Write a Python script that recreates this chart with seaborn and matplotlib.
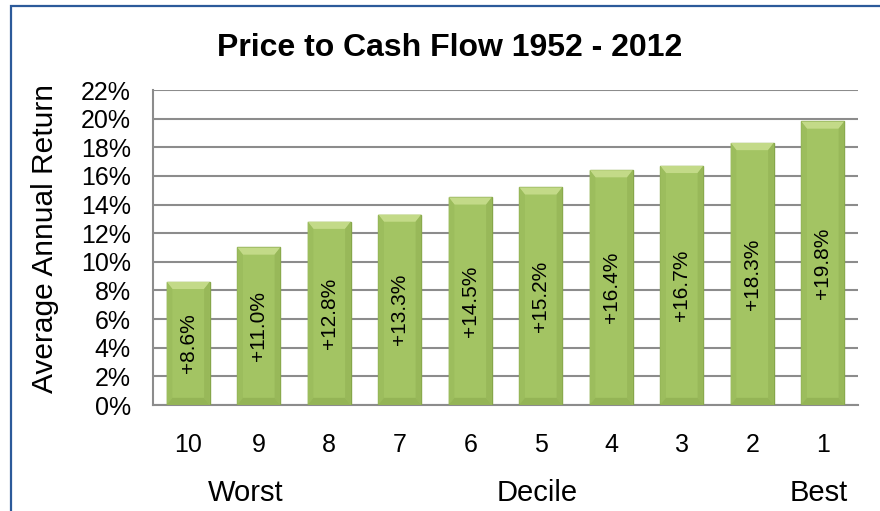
import matplotlib
matplotlib.use("Agg")
import matplotlib.pyplot as plt
import matplotlib.patches as mpatches
import seaborn as sns
import pandas as pd

# values
deciles = ["10", "9", "8", "7", "6", "5", "4", "3", "2", "1"]
returns = [8.6, 11.0, 12.8, 13.3, 14.5, 15.2, 16.4, 16.7, 18.3, 19.8]
yticks = list(range(0, 23, 2))

veri = pd.DataFrame({"Decile": deciles, "Return": returns})

sns.set_style("white")
plt.rcParams["font.family"] = ["Liberation Sans", "DejaVu Sans"]
plt.rcParams["text.color"] = "black"
plt.rcParams["axes.labelcolor"] = "black"
plt.rcParams["xtick.color"] = "black"
plt.rcParams["ytick.color"] = "black"

fig = plt.figure(figsize=(8.8, 5.11), dpi=100)
ax = fig.add_axes([153 / 880, 1 - 405 / 511, 705 / 880, 315 / 511])

sns.barplot(data=veri, x="Decile", y="Return", order=deciles, color="#a3c463",
            width=0.61, edgecolor="#86a64a", linewidth=1.0, saturation=1, ax=ax, zorder=3)

# bevelled look: lighter wedge on top, slightly darker sides, bar label in the middle
bh = 0.5    # bevel height in %
bw = 0.08   # bevel width in category units
for p, v in zip(ax.patches, returns):
    x0 = p.get_x()
    x1 = x0 + p.get_width()
    top = mpatches.Polygon([(x0, v), (x1, v), (x1 - bw, v - bh), (x0 + bw, v - bh)],
                           closed=True, facecolor="#c3da88", edgecolor="none", zorder=3.5)
    left = mpatches.Polygon([(x0, v), (x0 + bw, v - bh), (x0 + bw, bh), (x0, 0)],
                            closed=True, facecolor="#9cbd5d", edgecolor="none", zorder=3.5)
    right = mpatches.Polygon([(x1, v), (x1 - bw, v - bh), (x1 - bw, bh), (x1, 0)],
                             closed=True, facecolor="#98b859", edgecolor="none", zorder=3.5)
    bottom = mpatches.Polygon([(x0, 0), (x1, 0), (x1 - bw, bh), (x0 + bw, bh)],
                              closed=True, facecolor="#94b456", edgecolor="none", zorder=3.5)
    for poly in (top, left, right, bottom):
        ax.add_patch(poly)
    ax.text((x0 + x1) / 2, v / 2, f"+{v:.1f}%", rotation=90,
            ha="center", va="center", fontsize=15, color="black", zorder=4)

ax.set_ylim(0, 22)
ax.set_xlim(-0.5, len(deciles) - 0.5)
ax.set_yticks(yticks)
ax.set_yticklabels([f"{t}%" for t in yticks], fontsize=18)
ax.yaxis.grid(True, color="#8c8c8c", linewidth=1.5, zorder=0)
ax.set_axisbelow(True)

# category boundary ticks on x axis
ax.set_xticks(range(len(deciles)))
ax.set_xticklabels(deciles, fontsize=18)
ax.set_xticks([i - 0.5 for i in range(len(deciles) + 1)], minor=True)
ax.tick_params(axis="x", which="major", length=0, pad=20)
ax.tick_params(axis="x", which="minor", length=7, width=1.5, color="#8c8c8c", direction="out")
ax.tick_params(axis="y", length=6, width=1.5, color="#8c8c8c", direction="out", pad=10)

for s in ["top", "right"]:
    ax.spines[s].set_visible(False)
for s in ["left", "bottom"]:
    ax.spines[s].set_color("#8c8c8c")
    ax.spines[s].set_linewidth(1.5)

ax.set_ylabel("Average Annual Return", fontsize=21.5, va="center")
ax.yaxis.set_label_coords(-0.153, 0.527)
ax.set_xlabel("")

# bottom labels
ax.text(4.95, -0.28, "Decile", transform=ax.get_xaxis_transform(), ha="center", va="center", fontsize=21)
ax.text(0.81, -0.28, "Worst", transform=ax.get_xaxis_transform(), ha="center", va="center", fontsize=21)
ax.text(8.94, -0.28, "Best", transform=ax.get_xaxis_transform(), ha="center", va="center", fontsize=21)

fig.text(450 / 880, 1 - 48 / 511, "Price to Cash Flow 1952 - 2012", ha="center", va="center",
         fontsize=23, fontweight="bold")

# blue chart border (only left and top edges fall inside the picture)
fig.patches.append(mpatches.Rectangle((11 / 880, -0.2), 1.2, 1.2 - 6 / 511, transform=fig.transFigure,
                                      fill=False, edgecolor="#2c5a9a", linewidth=1.6))

fig.savefig("out.png", dpi=100)
